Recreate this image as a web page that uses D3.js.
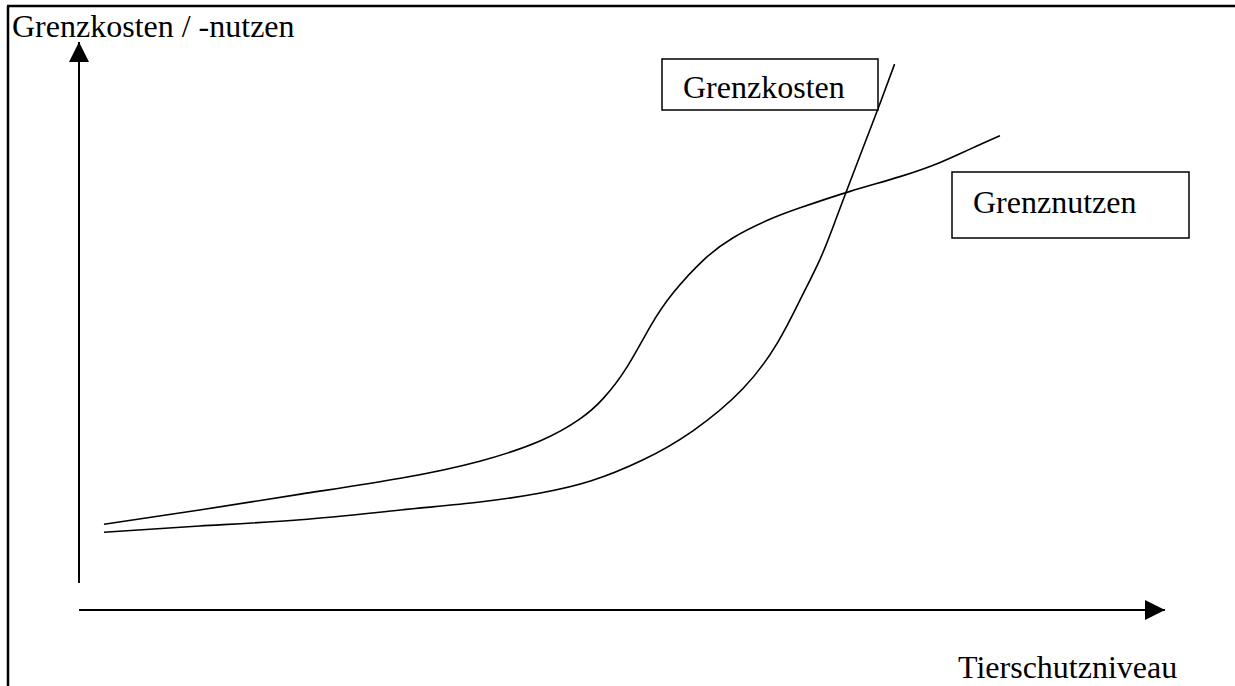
<!DOCTYPE html>
<html>
<head>
<meta charset="utf-8">
<script src="https://cdn.jsdelivr.net/npm/d3@7"></script>
<style>
  body { margin: 0; background: #fff; }
  text { font-family: "Liberation Serif", "Times New Roman", serif; fill: #000; }
</style>
</head>
<body>
<div id="chart"></div>
<script>
// curve values (x: Tierschutzniveau 0-100, y: Grenzkosten / -nutzen 0-100)
var nutzenX = [2.3, 11.1, 20.4, 29.6, 36.9, 42.5, 46.1, 48.3, 50.5, 52.6, 54.7, 57.5, 60.2, 63.4, 66.4, 71.0, 75.6, 79.3, 82.0, 84.8];
var nutzenY = [15.1, 17.6, 20.4, 23.2, 26.2, 29.8, 33.6, 37.3, 42.9, 49.9, 55.8, 61.6, 65.5, 68.6, 70.8, 73.7, 76.3, 78.8, 81.1, 83.5];
var kostenX = [2.3, 11.1, 20.4, 29.6, 36.9, 42.5, 47.1, 51.9, 56.5, 61.1, 64.3, 66.4, 68.2, 69.6, 71.0, 72.4, 73.8, 75.1];
var kostenY = [13.7, 14.8, 15.9, 17.6, 19.0, 20.6, 22.7, 26.4, 31.5, 38.9, 47.0, 54.6, 61.6, 68.3, 75.4, 82.4, 89.4, 96.1];

var yLabel = "Grenzkosten / -nutzen";
var xLabel = "Tierschutzniveau";
var kostenLabel = "Grenzkosten";
var nutzenLabel = "Grenznutzen";

var W = 1235, H = 686;

var svg = d3.select("#chart")
  .append("svg")
    .attr("width", W)
    .attr("height", H);

// frame (top and left edge of the page table)
svg.append("line").attr("x1", 7).attr("y1", 6).attr("x2", W).attr("y2", 6)
  .attr("stroke", "#000").attr("stroke-width", 2.5);
svg.append("line").attr("x1", 8).attr("y1", 6).attr("x2", 8).attr("y2", H)
  .attr("stroke", "#000").attr("stroke-width", 2.5);

// scales
var x = d3.scaleLinear().domain([0, 100]).range([79, 1165]);
var y = d3.scaleLinear().domain([0, 100]).range([610, 42]);

// arrow heads
var defs = svg.append("defs");
defs.append("marker")
    .attr("id", "arrow")
    .attr("viewBox", "0 0 20 20")
    .attr("refX", 20).attr("refY", 10)
    .attr("markerWidth", 20).attr("markerHeight", 20)
    .attr("markerUnits", "userSpaceOnUse")
    .attr("orient", "auto")
  .append("path")
    .attr("d", "M0,0 L20,10 L0,20 Z")
    .attr("fill", "#000");

// y axis (starts a bit above the x axis, like the drawing)
svg.append("line")
  .attr("x1", x(0)).attr("y1", 583)
  .attr("x2", x(0)).attr("y2", y(100))
  .attr("stroke", "#000").attr("stroke-width", 2)
  .attr("marker-end", "url(#arrow)");

// x axis
svg.append("line")
  .attr("x1", x(0)).attr("y1", y(0))
  .attr("x2", x(100)).attr("y2", y(0))
  .attr("stroke", "#000").attr("stroke-width", 2)
  .attr("marker-end", "url(#arrow)");

// lines
var line = d3.line()
  .x(function(d) { return x(d[0]); })
  .y(function(d) { return y(d[1]); })
  .curve(d3.curveNatural);

var nutzen = nutzenX.map(function(v, i) { return [v, nutzenY[i]]; });
var kosten = kostenX.map(function(v, i) { return [v, kostenY[i]]; });

svg.append("path")
  .datum(nutzen)
  .attr("fill", "none")
  .attr("stroke", "#000")
  .attr("stroke-width", 1.6)
  .attr("d", line);

svg.append("path")
  .datum(kosten)
  .attr("fill", "none")
  .attr("stroke", "#000")
  .attr("stroke-width", 1.6)
  .attr("d", line);

// axis labels
svg.append("text")
  .attr("x", 12).attr("y", 37)
  .style("font-size", "32px")
  .text(yLabel);

svg.append("text")
  .attr("x", 958).attr("y", 678)
  .style("font-size", "32px")
  .text(xLabel);

// label boxes
svg.append("rect")
  .attr("x", 662).attr("y", 59).attr("width", 216).attr("height", 51)
  .attr("fill", "#fff").attr("stroke", "#000").attr("stroke-width", 1.5);
svg.append("text")
  .attr("x", 683).attr("y", 98)
  .style("font-size", "32px")
  .text(kostenLabel);

svg.append("rect")
  .attr("x", 952).attr("y", 172).attr("width", 237).attr("height", 66)
  .attr("fill", "#fff").attr("stroke", "#000").attr("stroke-width", 1.5);
svg.append("text")
  .attr("x", 973).attr("y", 213)
  .style("font-size", "32px")
  .text(nutzenLabel);
</script>
</body>
</html>
